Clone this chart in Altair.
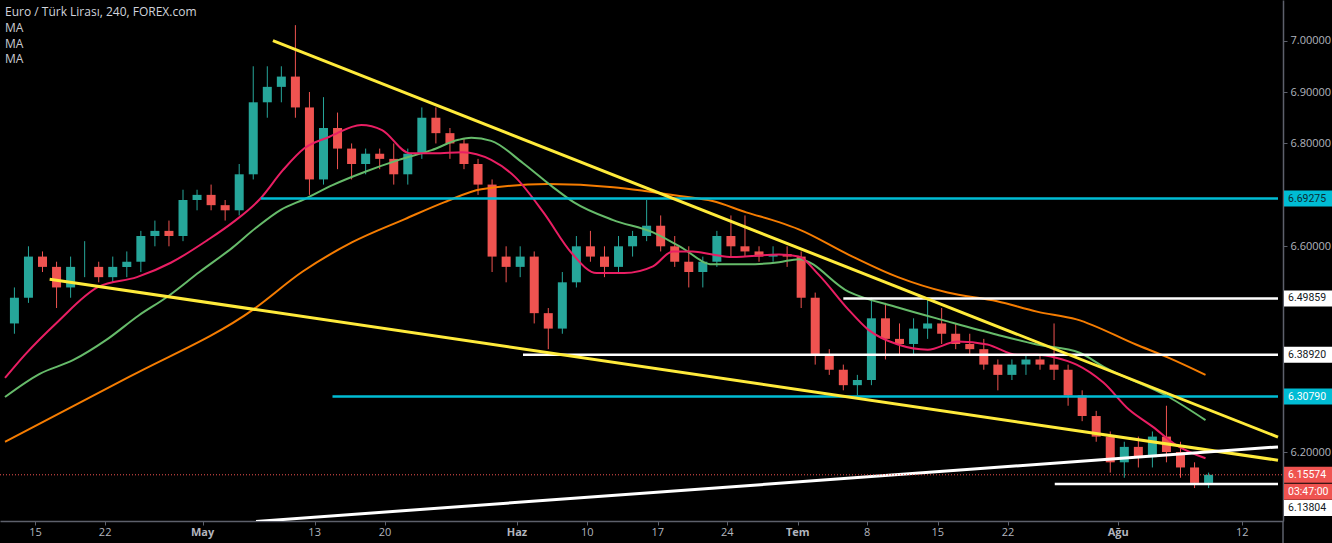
import altair as alt
import pandas as pd
import numpy as np

# ---------------- data ----------------
# x unit: trading days counted from Monday 15 April (tick "15" = 0)
X_MIN, X_MAX = -2.17, 88.44
Y_MIN, Y_MAX = 6.0659, 7.0789

day = list(range(-2, 84))
open_ = [6.45, 6.50, 6.58, 6.56, 6.52, 6.56, 6.56, 6.54, 6.56, 6.57,
         6.62, 6.63, 6.62, 6.69, 6.70, 6.68, 6.67, 6.74, 6.88, 6.91,
         6.93, 6.87, 6.73, 6.83, 6.79, 6.76, 6.78, 6.77, 6.74, 6.78,
         6.85, 6.82, 6.80, 6.76, 6.72, 6.58, 6.56, 6.58, 6.47, 6.44,
         6.53, 6.60, 6.58, 6.56, 6.60, 6.62, 6.64, 6.60, 6.57, 6.55,
         6.57, 6.62, 6.60, 6.59, 6.58, 6.585, 6.58, 6.50, 6.39, 6.36,
         6.33, 6.34, 6.46, 6.42, 6.41, 6.44, 6.45, 6.43, 6.41, 6.40,
         6.37, 6.35, 6.37, 6.38, 6.37, 6.36, 6.31, 6.27, 6.23, 6.18,
         6.21, 6.19, 6.23, 6.20, 6.17, 6.14]
high_ = [6.52, 6.60, 6.59, 6.57, 6.58, 6.61, 6.57, 6.58, 6.59, 6.63,
         6.65, 6.65, 6.71, 6.71, 6.72, 6.69, 6.76, 6.95, 6.95, 6.95,
         7.03, 6.90, 6.89, 6.86, 6.80, 6.79, 6.79, 6.80, 6.79, 6.87,
         6.87, 6.83, 6.81, 6.77, 6.73, 6.60, 6.60, 6.59, 6.48, 6.55,
         6.62, 6.63, 6.60, 6.62, 6.63, 6.69, 6.66, 6.62, 6.60, 6.58,
         6.63, 6.66, 6.66, 6.60, 6.60, 6.60, 6.59, 6.51, 6.40, 6.37,
         6.35, 6.50, 6.49, 6.45, 6.46, 6.50, 6.48, 6.45, 6.43, 6.42,
         6.38, 6.38, 6.39, 6.39, 6.45, 6.37, 6.32, 6.28, 6.24, 6.22,
         6.23, 6.24, 6.29, 6.22, 6.18, 6.16]
low_ = [6.43, 6.49, 6.55, 6.48, 6.50, 6.54, 6.53, 6.53, 6.54, 6.55,
        6.60, 6.60, 6.61, 6.67, 6.67, 6.65, 6.66, 6.73, 6.85, 6.88,
        6.85, 6.70, 6.72, 6.75, 6.73, 6.74, 6.75, 6.72, 6.72, 6.77,
        6.80, 6.77, 6.75, 6.70, 6.55, 6.53, 6.54, 6.45, 6.40, 6.43,
        6.52, 6.57, 6.54, 6.55, 6.58, 6.61, 6.59, 6.56, 6.52, 6.52,
        6.56, 6.58, 6.58, 6.57, 6.57, 6.56, 6.48, 6.37, 6.35, 6.32,
        6.31, 6.33, 6.38, 6.39, 6.39, 6.42, 6.41, 6.40, 6.39, 6.36,
        6.32, 6.34, 6.35, 6.36, 6.34, 6.29, 6.26, 6.22, 6.16, 6.15,
        6.17, 6.17, 6.18, 6.15, 6.13, 6.13]
close_ = [6.50, 6.58, 6.56, 6.52, 6.56, 6.56, 6.54, 6.56, 6.57, 6.62,
          6.63, 6.62, 6.69, 6.70, 6.68, 6.67, 6.74, 6.88, 6.91, 6.93,
          6.87, 6.73, 6.83, 6.79, 6.76, 6.78, 6.77, 6.74, 6.78, 6.85,
          6.82, 6.80, 6.76, 6.72, 6.58, 6.56, 6.58, 6.47, 6.44, 6.53,
          6.60, 6.58, 6.56, 6.60, 6.62, 6.64, 6.60, 6.57, 6.55, 6.57,
          6.62, 6.60, 6.59, 6.58, 6.585, 6.58, 6.50, 6.39, 6.36, 6.33,
          6.34, 6.46, 6.42, 6.41, 6.44, 6.45, 6.43, 6.41, 6.40, 6.37,
          6.35, 6.37, 6.38, 6.37, 6.36, 6.31, 6.27, 6.23, 6.18, 6.21,
          6.19, 6.23, 6.20, 6.17, 6.14, 6.15574]

# moving averages (sampled along each drawn curve)
ma_red_x = [-2.17, -0.76, 1.57, 4.47, 7.22, 9.63, 12.24, 14.07, 15.98, 17.61,
            19.16, 20.93, 23.19, 24.67, 26.65, 28.41, 30.39, 32.44, 34.13, 36.18,
            38.16, 39.93, 41.91, 43.95, 45.36, 46.77, 48.19, 49.60, 52.92, 54.33,
            55.74, 57.86, 59.27, 61.39, 63.51, 65.63, 67.75, 69.87, 71.28, 72.70,
            74.10, 76.01, 77.85, 79.54, 81.17, 83.28]
ma_red_y = [6.344, 6.389, 6.453, 6.521, 6.540, 6.568, 6.612, 6.647, 6.692, 6.748,
            6.791, 6.813, 6.836, 6.826, 6.781, 6.781, 6.783, 6.768, 6.735, 6.665,
            6.587, 6.548, 6.548, 6.561, 6.590, 6.590, 6.584, 6.579, 6.584, 6.580,
            6.545, 6.477, 6.438, 6.409, 6.399, 6.415, 6.409, 6.389, 6.389, 6.383,
            6.370, 6.335, 6.282, 6.249, 6.214, 6.188]
ma_green_x = [-2.17, 0.30, 2.70, 5.04, 7.37, 9.34, 11.67, 14.00, 15.70, 17.46,
              19.16, 21.14, 23.47, 25.87, 28.20, 30.11, 31.02, 32.44, 34.69, 36.74,
              38.30, 41.12, 43.95, 45.85, 48.19, 50.59, 52.92, 54.33, 57.86, 61.39,
              64.92, 68.45, 71.28, 74.32, 76.01, 80.67, 83.28]
ma_green_y = [6.307, 6.352, 6.379, 6.418, 6.466, 6.501, 6.550, 6.597, 6.636, 6.671,
              6.692, 6.719, 6.745, 6.768, 6.787, 6.807, 6.811, 6.805, 6.762, 6.717,
              6.686, 6.651, 6.627, 6.600, 6.565, 6.565, 6.569, 6.575, 6.512, 6.481,
              6.454, 6.428, 6.409, 6.393, 6.366, 6.307, 6.262]
ma_orange_x = [-2.17, 6.66, 15.49, 19.02, 22.55, 26.29, 29.12, 31.73, 36.46, 41.12,
               43.52, 45.85, 48.19, 50.59, 52.92, 54.33, 57.86, 61.39, 64.92, 68.45,
               71.28, 74.10, 78.33, 80.67, 83.28]
ma_orange_y = [6.220, 6.346, 6.477, 6.551, 6.608, 6.653, 6.686, 6.711, 6.721, 6.715,
               6.707, 6.698, 6.688, 6.666, 6.647, 6.633, 6.584, 6.540, 6.510, 6.493,
               6.473, 6.458, 6.409, 6.383, 6.350]

# drawn trend lines
trend_x1 = [16.90, 1.01, 15.70]
trend_y1 = [7.000, 6.536, 6.065]
trend_x2 = [88.44, 88.44, 88.44]
trend_y2 = [6.229, 6.184, 6.210]
trend_col = ["#ffeb3b", "#ffeb3b", "#ffffff"]

# horizontal levels
level_price = [6.69275, 6.49859, 6.38920, 6.30790, 6.13804]
level_start = [16.05, 57.50, 34.70, 21.14, 72.55]
level_col = ["#00bcd4", "#ffffff", "#ffffff", "#00bcd4", "#ffffff"]

last_price = 6.15574

# x-axis ticks
tick_pos = [0, 4.96, 11.89, 19.87, 24.88, 34.27, 39.28, 44.30, 49.24, 54.26,
            59.20, 64.22, 69.23, 77.07, 85.90]
tick_text = ["15", "22", "May", "13", "20", "Haz", "10", "17", "24", "Tem",
             "8", "15", "22", "Ağu", "12"]
tick_month = [False, False, True, False, False, True, False, False, False, True,
              False, False, False, True, False]

# price axis
price_ticks = [6.2, 6.6, 6.8, 6.9, 7.0]

# right-axis labels
box_text = ["6.69275", "6.49859", "6.38920", "6.30790", "6.15574", "03:47:00", "6.13804"]
box_anchor = [6.69275, 6.49859, 6.38920, 6.30790, 6.15574, 6.15574, 6.13804]
box_bg = ["#00bcd4", "#ffffff", "#ffffff", "#00bcd4", "#ef5350", "#ef5350", "#ffffff"]
box_fg = ["#0b2a30", "#131722", "#131722", "#ffffff", "#ffffff", "#ffffff", "#131722"]
box_shift = [0, 0, 0, 0, 0, 17, 24]

title_text = "Euro / Türk Lirası, 240, FOREX.com"
legend_text = "MA\nMA\nMA"

# ---------------- styling ----------------
W, H = 1283, 521
UP, DOWN = "#26a69a", "#ef5350"
AXIS_GREY = "#5d606b"
LABEL_GREY = "#b2b5be"
FONT = "Open Sans"

xs = alt.Scale(domain=[X_MIN, X_MAX], nice=False, zero=False)
ys = alt.Scale(domain=[Y_MIN, Y_MAX], nice=False, zero=False)
xaxis = alt.Axis(values=tick_pos, labels=False, tickSize=4, tickColor=AXIS_GREY,
                 domainColor=AXIS_GREY, domainWidth=1.5, grid=False, title=None)
yaxis = alt.Axis(orient="right", values=price_ticks, format=".5f", labelFontSize=11,
                 labelColor=LABEL_GREY, labelFont=FONT, tickSize=4, tickColor=AXIS_GREY,
                 domainColor=AXIS_GREY, domainWidth=1.5, labelPadding=3, grid=False,
                 title=None)

def X(f):
    return alt.X(f, type="quantitative", scale=xs, axis=xaxis)

def Y(f):
    return alt.Y(f, type="quantitative", scale=ys, axis=yaxis)

candles = pd.DataFrame({"d": [k + 0.5 for k in day], "o": open_, "h": high_,
                        "l": low_, "c": close_})
candles["col"] = np.where(candles["c"] >= candles["o"], UP, DOWN)

wick = alt.Chart(candles).mark_rule(strokeWidth=1).encode(
    x=X("d"), y=Y("l"), y2="h", color=alt.Color("col:N", scale=None))
body = alt.Chart(candles).mark_bar(size=9).encode(
    x=X("d"), y=Y("o"), y2="c", color=alt.Color("col:N", scale=None))

ma = pd.concat([
    pd.DataFrame({"d": ma_orange_x, "p": ma_orange_y, "s": "orange", "col": "#f57c00"}),
    pd.DataFrame({"d": ma_green_x, "p": ma_green_y, "s": "green", "col": "#66bb6a"}),
    pd.DataFrame({"d": ma_red_x, "p": ma_red_y, "s": "red", "col": "#e91e63"}),
])
ma_lines = alt.Chart(ma).mark_line(strokeWidth=2, clip=True, interpolate="monotone").encode(
    x=X("d"), y=Y("p"), detail="s:N", color=alt.Color("col:N", scale=None))

levels = pd.DataFrame({"x1": level_start, "x2": X_MAX, "p": level_price, "col": level_col})
level_rules = alt.Chart(levels).mark_rule(strokeWidth=2.5).encode(
    x=X("x1"), x2="x2", y=Y("p"), color=alt.Color("col:N", scale=None))

trends = pd.DataFrame({"x1": trend_x1, "y1": trend_y1, "x2": trend_x2, "y2": trend_y2,
                       "col": trend_col})
trend_rules = alt.Chart(trends).mark_rule(strokeWidth=3, clip=True).encode(
    x=X("x1"), x2="x2", y=Y("y1"), y2="y2", color=alt.Color("col:N", scale=None))

lastp = pd.DataFrame({"p": [last_price]})
last_rule = alt.Chart(lastp).mark_rule(strokeWidth=1, strokeDash=[1, 2], color="#ef5350").encode(
    x=alt.value(0), x2=alt.value(W), y=Y("p"))

boxes = pd.DataFrame({"t": box_text, "p": box_anchor, "bg": box_bg, "fg": box_fg,
                      "sh": box_shift})
box_layers = []
for sh in sorted(set(box_shift)):
    sub = boxes[boxes["sh"] == sh]
    box_layers.append(alt.Chart(sub).mark_rect(yOffset=sh - 8, y2Offset=sh + 8).encode(
        x=alt.value(W + 1), x2=alt.value(1332), y=Y("p"), y2="p",
        color=alt.Color("bg:N", scale=None)))
    box_layers.append(alt.Chart(sub).mark_text(align="left", baseline="middle", yOffset=sh,
                                               fontSize=10.5, font="Roboto").encode(
        x=alt.value(W + 5), y=Y("p"), text="t:N", color=alt.Color("fg:N", scale=None)))

ticks = pd.DataFrame({"d": tick_pos, "t": tick_text, "m": tick_month})
tick_layers = []
for is_month in (False, True):
    tick_layers.append(alt.Chart(ticks[ticks["m"] == is_month]).mark_text(
        baseline="middle", fontSize=11, font=FONT, color=LABEL_GREY,
        fontWeight="bold" if is_month else "normal").encode(
        x=X("d"), y=alt.value(533), text="t:N"))

axis_ext = alt.Chart(pd.DataFrame({"v": [0]})).mark_rule(color=AXIS_GREY, strokeWidth=1.5).encode(
    x=alt.value(W), y=alt.value(H), y2=alt.value(543))

title = alt.Chart(pd.DataFrame({"t": [title_text]})).mark_text(
    align="left", baseline="middle", fontSize=12, font=FONT, color="#d1d4dc").encode(
    x=alt.value(5), y=alt.value(12), text="t:N")
legend = alt.Chart(pd.DataFrame({"t": [legend_text]})).mark_text(
    align="left", baseline="top", fontSize=12, font=FONT, color="#c9cbd2",
    lineBreak="\n", lineHeight=15.5).encode(
    x=alt.value(5), y=alt.value(23), text="t:N")

chart = alt.layer(
    wick, body, ma_lines, level_rules, trend_rules, last_rule, *box_layers,
    *tick_layers, axis_ext, title, legend
).properties(
    width=W, height=H,
    autosize=alt.AutoSizeParams(type="none"),
    padding={"left": 0, "top": 0, "right": 1332 - W, "bottom": 543 - H},
    background="#000000",
).configure_view(stroke=None)

chart.save("out.html", embed_options={"renderer": "svg", "actions": False})
